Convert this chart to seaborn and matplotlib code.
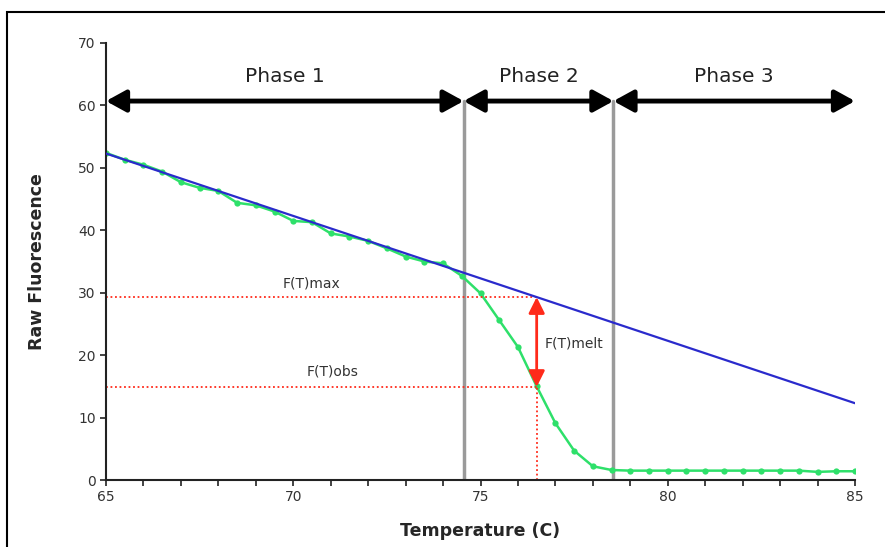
import numpy as np
import pandas as pd
import matplotlib
matplotlib.use("Agg")
import matplotlib.pyplot as plt
import seaborn as sns
from matplotlib.patches import Rectangle

# ---- data ----
temperature = [65, 65.5, 66, 66.5, 67, 67.5, 68, 68.5, 69, 69.5, 70, 70.5, 71, 71.5,
               72, 72.5, 73, 73.5, 74, 74.5, 75, 75.5, 76, 76.5, 77, 77.5, 78, 78.5,
               79, 79.5, 80, 80.5, 81, 81.5, 82, 82.5, 83, 83.5, 84, 84.5, 85]
fluorescence = [52.4, 51.3, 50.5, 49.4, 47.7, 46.8, 46.3, 44.4, 44.0, 43.0, 41.5, 41.3,
                39.5, 39.0, 38.3, 37.1, 35.8, 35.0, 34.7, 32.7, 29.9, 25.6, 21.3, 15.0,
                9.1, 4.7, 2.2, 1.6, 1.5, 1.5, 1.5, 1.5, 1.5, 1.5, 1.5, 1.5, 1.5, 1.5,
                1.3, 1.4, 1.4]
baseline_x = [65, 85]
baseline_y = [52.3, 12.3]
phase_bounds = [65, 74.55, 78.55, 85]
phase_labels = ["Phase 1", "Phase 2", "Phase 3"]
t_obs = 76.5
f_max = 29.3
f_obs = 14.9

df = pd.DataFrame({"Temperature": temperature, "Fluorescence": fluorescence})
df_base = pd.DataFrame({"Temperature": baseline_x, "Fluorescence": baseline_y})

sns.set_theme(style="ticks")
plt.rcParams["font.family"] = ["DejaVu Sans"]

fig = plt.figure(figsize=(8.85, 5.47), dpi=100)
ax = fig.add_axes([106/885, 1-480/547, (855-106)/885, (480-43)/547])

# figure frame
fig.patches.append(Rectangle((7/885, -0.1), 1.2, 1 - 12/547 + 0.1, transform=fig.transFigure,
                             fill=False, edgecolor="black", linewidth=1.5, zorder=0))

# phase boundaries
for xb in phase_bounds[1:3]:
    ax.plot([xb, xb], [0, 60.7], color="#9a9a9a", lw=2.5, zorder=1)

sns.lineplot(data=df_base, x="Temperature", y="Fluorescence", ax=ax,
             color="#2a2acc", lw=1.6, zorder=3)
sns.lineplot(data=df, x="Temperature", y="Fluorescence", ax=ax,
             color="#2ee06a", lw=1.8, marker="o", markersize=4.5,
             markeredgewidth=0, zorder=2)

# red dotted guides
red = "#ff2a1a"
ax.plot([65, t_obs], [f_max, f_max], color=red, lw=1.3, ls=(0, (1, 1.5)), zorder=2)
ax.plot([65, t_obs], [f_obs, f_obs], color=red, lw=1.3, ls=(0, (1, 1.5)), zorder=2)
ax.plot([t_obs, t_obs], [0, f_obs], color=red, lw=1.3, ls=(0, (1, 1.5)), zorder=2)
ax.annotate("", xy=(t_obs, f_max), xytext=(t_obs, f_obs),
            arrowprops=dict(arrowstyle="<|-|>,head_length=0.8,head_width=0.4",
                            color=red, lw=2, shrinkA=0, shrinkB=0), zorder=4)
ax.text(76.7, 21.8, "F(T)melt", fontsize=10, color="#333333", va="center", ha="left")
ax.text(70.5, 31.5, "F(T)max", fontsize=10, color="#333333", va="center", ha="center")
ax.text(71.05, 17.4, "F(T)obs", fontsize=10, color="#333333", va="center", ha="center")

# phase arrows
for i, lab in enumerate(phase_labels):
    x0, x1 = phase_bounds[i], phase_bounds[i+1]
    ax.annotate("", xy=(x1, 60.7), xytext=(x0, 60.7), annotation_clip=False,
                arrowprops=dict(arrowstyle="<|-|>,head_length=1.0,head_width=0.55",
                                color="black", lw=3.5, shrinkA=0, shrinkB=0), zorder=5)
    ax.text((x0 + x1) / 2, 64.6, lab, fontsize=14.5, color="#222222", ha="center", va="center")

ax.set_xlim(65, 85)
ax.set_ylim(0, 70)
ax.set_xticks([65, 70, 75, 80, 85])
ax.set_xticks(np.arange(65, 86, 1), minor=True)
ax.set_yticks(np.arange(0, 71, 10))
ax.tick_params(axis="both", which="major", labelsize=10, length=4, width=1.2,
               colors="#222222", labelcolor="#333333")
ax.tick_params(axis="x", which="minor", length=4, width=1.2, colors="#222222")
ax.set_xlabel("Temperature (C)", fontsize=12.5, fontweight="bold", labelpad=13)
ax.set_ylabel("Raw Fluorescence", fontsize=12.5, fontweight="bold", labelpad=23)
sns.despine(ax=ax)
for s in ["left", "bottom"]:
    ax.spines[s].set_linewidth(1.5)
    ax.spines[s].set_color("#222222")

fig.savefig("out.png", dpi=100)
